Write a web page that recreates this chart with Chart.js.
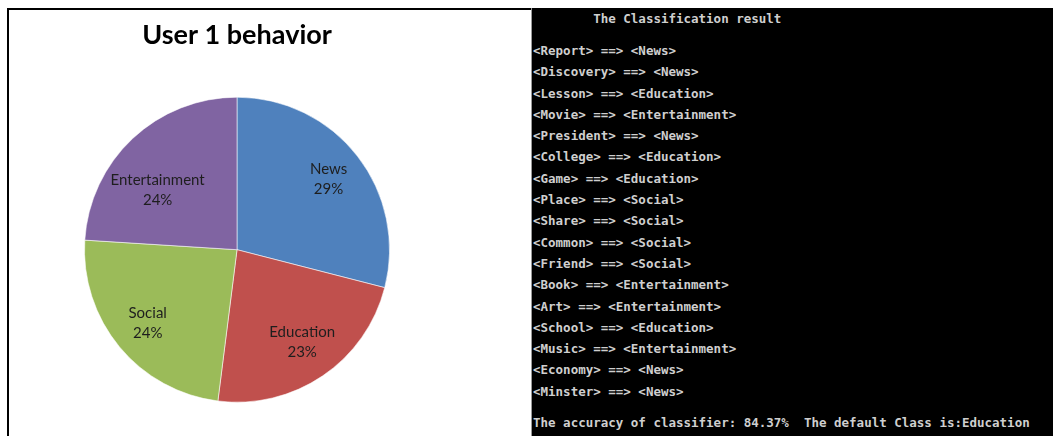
<!DOCTYPE html>
<html>
<head>
<meta charset="utf-8">
<script src="https://cdn.jsdelivr.net/npm/chart.js@4.4.1/dist/chart.umd.min.js"></script>
<style>
  html, body { margin: 0; padding: 0; background: #fff; width: 1053px; height: 436px; overflow: hidden; }
  #chartPanel {
    position: absolute; left: 7px; top: 8px; width: 522px; height: 428px;
    border-top: 2px solid #000; border-left: 2px solid #000; background: #fff;
  }
  #chartPanel canvas { display: block; }
  #console {
    position: absolute; left: 531px; top: 8px; width: 521px; height: 428px;
    background: #000; border-left: 1px solid #9a9a9a; overflow: hidden;
    font-family: "DejaVu Sans Mono", "Liberation Mono", monospace;
    font-weight: bold; font-size: 12.5px; color: #cfcfcf;
  }
  #console pre { margin: 0; font: inherit; white-space: pre; line-height: 21.3px; position: absolute; left: 1px; }
</style>
</head>
<body>
<div id="chartPanel"><canvas id="myPie" width="522" height="426"></canvas></div>
<div id="console">
  <pre id="conTitle" style="top:0px"></pre>
  <pre id="conLines" style="top:32px"></pre>
  <pre id="conFooter" style="top:404px"></pre>
</div>
<script>
// datos del gráfico
const categorias = ['News', 'Education', 'Social', 'Entertainment'];
const porcentajes = [29, 23, 24, 24];
const colores = ['#4F81BD', '#C0504D', '#9BBB59', '#8064A2'];

// texto de la consola
const tituloConsola = '        The Classification result';
const palabras = ['Report', 'Discovery', 'Lesson', 'Movie', 'President', 'College', 'Game', 'Place',
  'Share', 'Common', 'Friend', 'Book', 'Art', 'School', 'Music', 'Economy', 'Minster'];
const clases = ['News', 'News', 'Education', 'Entertainment', 'News', 'Education', 'Education', 'Social',
  'Social', 'Social', 'Social', 'Entertainment', 'Entertainment', 'Education', 'Entertainment', 'News', 'News'];
const pieConsola = 'The accuracy of classifier: 84.37%  The default Class is:Education';

document.getElementById('conTitle').textContent = tituloConsola;
document.getElementById('conLines').textContent =
  palabras.map((p, i) => '<' + p + '> ==> <' + clases[i] + '>').join('\n');
document.getElementById('conFooter').textContent = pieConsola;

// etiquetas dentro de cada porción
const etiquetasPie = {
  id: 'etiquetasPie',
  afterDatasetsDraw(chart) {
    const ctx = chart.ctx;
    const meta = chart.getDatasetMeta(0);
    ctx.save();
    ctx.font = '15px Lato, "Open Sans", sans-serif';
    ctx.fillStyle = '#1e1e1e';
    ctx.textAlign = 'center';
    ctx.textBaseline = 'middle';
    const lh = 20;
    meta.data.forEach((arc, i) => {
      const p = arc.getProps(['x', 'y', 'startAngle', 'endAngle', 'outerRadius'], true);
      const mid = (p.startAngle + p.endAngle) / 2;
      const lineas = [categorias[i], porcentajes[i] + '%'];
      const w = Math.max(...lineas.map(t => ctx.measureText(t).width));
      const h = lineas.length * lh - 6;
      const r = p.outerRadius * 0.76;
      const cx = Math.cos(mid) * r;
      let cy = Math.sin(mid) * r;
      // mover en vertical hacia el centro hasta que el texto quepa en el círculo
      const lim = p.outerRadius * 0.97;
      const cabe = (yy) => [[-1, -1], [1, -1], [-1, 1], [1, 1]].every(([sx, sy]) =>
        Math.hypot(cx + sx * w / 2, yy + sy * h / 2) <= lim);
      while (!cabe(cy) && Math.abs(cy) > 1) cy -= Math.sign(cy);
      const x = p.x + cx;
      const y = p.y + cy;
      lineas.forEach((t, k) => ctx.fillText(t, x, y + (k - (lineas.length - 1) / 2) * lh));
    });
    ctx.restore();
  }
};

const grafico = new Chart(document.getElementById('myPie'), {
  type: 'pie',
  data: {
    labels: categorias,
    datasets: [{
      data: porcentajes,
      backgroundColor: colores,
      borderColor: 'rgba(255,255,255,0.55)',
      borderWidth: 1
    }]
  },
  options: {
    responsive: false,
    animation: false,
    events: [],
    layout: { padding: { left: 75, right: 141, top: 0, bottom: 33 } },
    plugins: {
      legend: { display: false },
      tooltip: { enabled: false },
      title: {
        display: true,
        text: 'User 1 behavior',
        color: '#000',
        font: { family: 'Lato, "Open Sans", sans-serif', size: 27, weight: 'bold', lineHeight: 1.2 },
        padding: { top: 9, bottom: 45 }
      }
    }
  },
  plugins: [etiquetasPie]
});
</script>
</body>
</html>
